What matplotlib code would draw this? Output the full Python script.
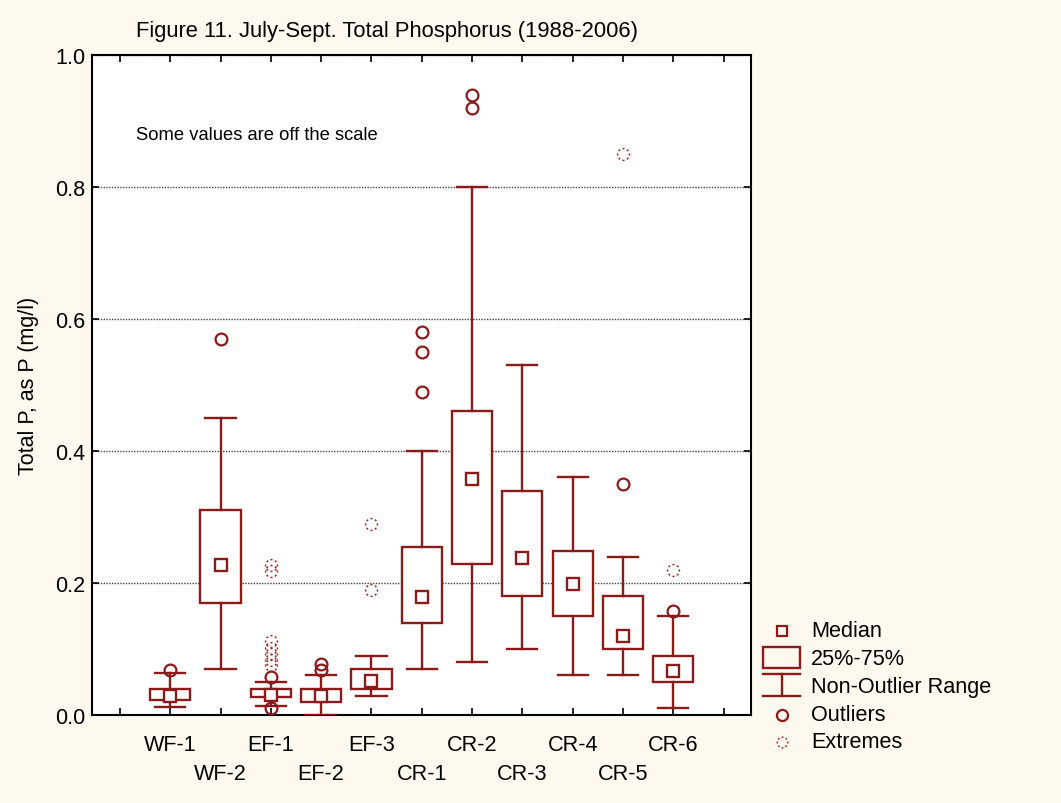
import matplotlib
matplotlib.use("Agg")
import matplotlib.pyplot as plt
from matplotlib.path import Path
import numpy as np

plt.rcParams['font.family'] = ['Liberation Sans', 'DejaVu Sans']

sites = ["WF-1", "WF-2", "EF-1", "EF-2", "EF-3", "CR-1", "CR-2", "CR-3", "CR-4", "CR-5", "CR-6"]
medians = [0.029, 0.227, 0.030, 0.029, 0.052, 0.179, 0.358, 0.238, 0.199, 0.119, 0.067]
q1 = [0.023, 0.170, 0.028, 0.019, 0.039, 0.140, 0.229, 0.180, 0.150, 0.100, 0.050]
q3 = [0.039, 0.310, 0.040, 0.039, 0.069, 0.255, 0.460, 0.340, 0.249, 0.180, 0.090]
whisker_low = [0.012, 0.070, 0.014, 0.000, 0.029, 0.070, 0.080, 0.100, 0.060, 0.060, 0.010]
whisker_high = [0.064, 0.450, 0.050, 0.060, 0.090, 0.400, 0.800, 0.530, 0.360, 0.240, 0.150]
outliers = [[0.068], [0.570], [0.058, 0.010], [0.078, 0.068], [], [0.580, 0.550, 0.490],
            [0.940, 0.920], [], [], [0.350], [0.158]]
extremes = [[], [], [0.228, 0.218, 0.112, 0.102, 0.093, 0.084, 0.076], [], [0.290, 0.190],
            [], [], [], [], [0.850], [0.220]]
legend_labels = ["Median", "25%-75%", "Non-Outlier Range", "Outliers", "Extremes"]

RED = "#8B1A1A"
EXT = "#9E2A2A"
BG = "#FDF9EE"

# dashed-ring marker for extremes
verts, codes = [], []
for k in range(8):
    a0 = np.deg2rad(k * 45 - 10)
    a1 = np.deg2rad(k * 45 + 10)
    for j, a in enumerate(np.linspace(a0, a1, 4)):
        verts.append((np.cos(a), np.sin(a)))
        codes.append(Path.MOVETO if j == 0 else Path.LINETO)
ring = Path(verts, codes)

fig = plt.figure(figsize=(10.61, 8.04), dpi=100, facecolor=BG)
W, H = 1061, 804
L, R, T, B = 92, 751, 56, 716
ax = fig.add_axes([L / W, 1 - B / H, (R - L) / W, (B - T) / H])
ax.set_facecolor("white")

pos = np.arange(1, len(sites) + 1)
stats = []
for i in range(len(sites)):
    stats.append(dict(med=medians[i], q1=q1[i], q3=q3[i], whislo=whisker_low[i],
                      whishi=whisker_high[i], fliers=[]))
ax.bxp(stats, positions=pos, widths=0.8, showfliers=False, patch_artist=True,
       boxprops=dict(facecolor="white", edgecolor=RED, linewidth=1.7),
       whiskerprops=dict(color=RED, linewidth=1.7),
       capprops=dict(color=RED, linewidth=1.7),
       medianprops=dict(linewidth=0), capwidths=0.6, zorder=3)
ax.plot(pos, medians, linestyle="none", marker="s", markersize=8, markerfacecolor="white",
        markeredgecolor=RED, markeredgewidth=1.7, zorder=5)
for p, vals in zip(pos, outliers):
    if vals:
        ax.plot([p] * len(vals), vals, linestyle="none", marker="o", markersize=8.5,
                markerfacecolor="none", markeredgecolor=RED, markeredgewidth=1.6, zorder=4)
for p, vals in zip(pos, extremes):
    if vals:
        ax.plot([p] * len(vals), vals, linestyle="none", marker=ring, markersize=8.5,
                markerfacecolor="none", markeredgecolor=EXT, markeredgewidth=1.1, zorder=4)

ax.set_xlim(-0.555, 12.545)
ax.set_ylim(0, 1.0)
ax.set_yticks([0, 0.2, 0.4, 0.6, 0.8, 1.0])
ax.set_yticklabels(["0.0", "0.2", "0.4", "0.6", "0.8", "1.0"], fontsize=15.6)
ax.set_xticks(np.arange(0, 13))
ax.set_xticklabels([])
ax.tick_params(axis="both", direction="in", length=5, width=1.2, top=True, right=True,
               colors="black")
ax.tick_params(axis="y", pad=4.5)
ax.yaxis.grid(True, linestyle=(0, (1, 1)), color="#444444", linewidth=1.0)
ax.set_axisbelow(True)
for s in ax.spines.values():
    s.set_linewidth(1.5)
    s.set_color("black")

for i, (p, name) in enumerate(zip(pos, sites)):
    yoff = -0.045 if i % 2 == 0 else -0.088
    ax.text(p, yoff, name, ha="center", va="center", fontsize=15.6,
            transform=ax.get_xaxis_transform())

ax.set_ylabel("Total P, as P (mg/l)", fontsize=15.5, labelpad=12)
ax.text(0.32, 0.88, "Some values are off the scale", fontsize=13.2, ha="left", va="center")
fig.text(387 / W, 1 - 32 / H, "Figure 11. July-Sept. Total Phosphorus (1988-2006)",
         fontsize=15.8, ha="center", va="center")

# legend (pixel-coordinate axes)
lax = fig.add_axes([750 / W, 1 - 760 / H, 311 / W, 150 / H])
lax.set_xlim(750, 1061)
lax.set_ylim(760, 610)
lax.axis("off")
rows = [632, 660, 688, 716, 743]
lx = 782
lax.plot(lx, rows[0], marker="s", markersize=7.5, markerfacecolor="none",
         markeredgecolor=RED, markeredgewidth=1.6, linestyle="none")
lax.add_patch(plt.Rectangle((763, 648), 37, 21, facecolor="none", edgecolor=RED, linewidth=1.7))
lax.plot([763, 800], [675, 675], color=RED, linewidth=1.7)
lax.plot([763, 800], [697, 697], color=RED, linewidth=1.7)
lax.plot([lx, lx], [675, 697], color=RED, linewidth=1.7)
lax.plot(lx, rows[3], marker="o", markersize=8, markerfacecolor="none",
         markeredgecolor=RED, markeredgewidth=1.6, linestyle="none")
lax.plot(lx, rows[4], marker=ring, markersize=7.5, markerfacecolor="none",
         markeredgecolor=EXT, markeredgewidth=1.1, linestyle="none")
for r, lab in zip(rows, legend_labels):
    lax.text(811, r, lab, fontsize=15.6, ha="left", va="center")

fig.savefig("out.png", dpi=100, facecolor=BG)
